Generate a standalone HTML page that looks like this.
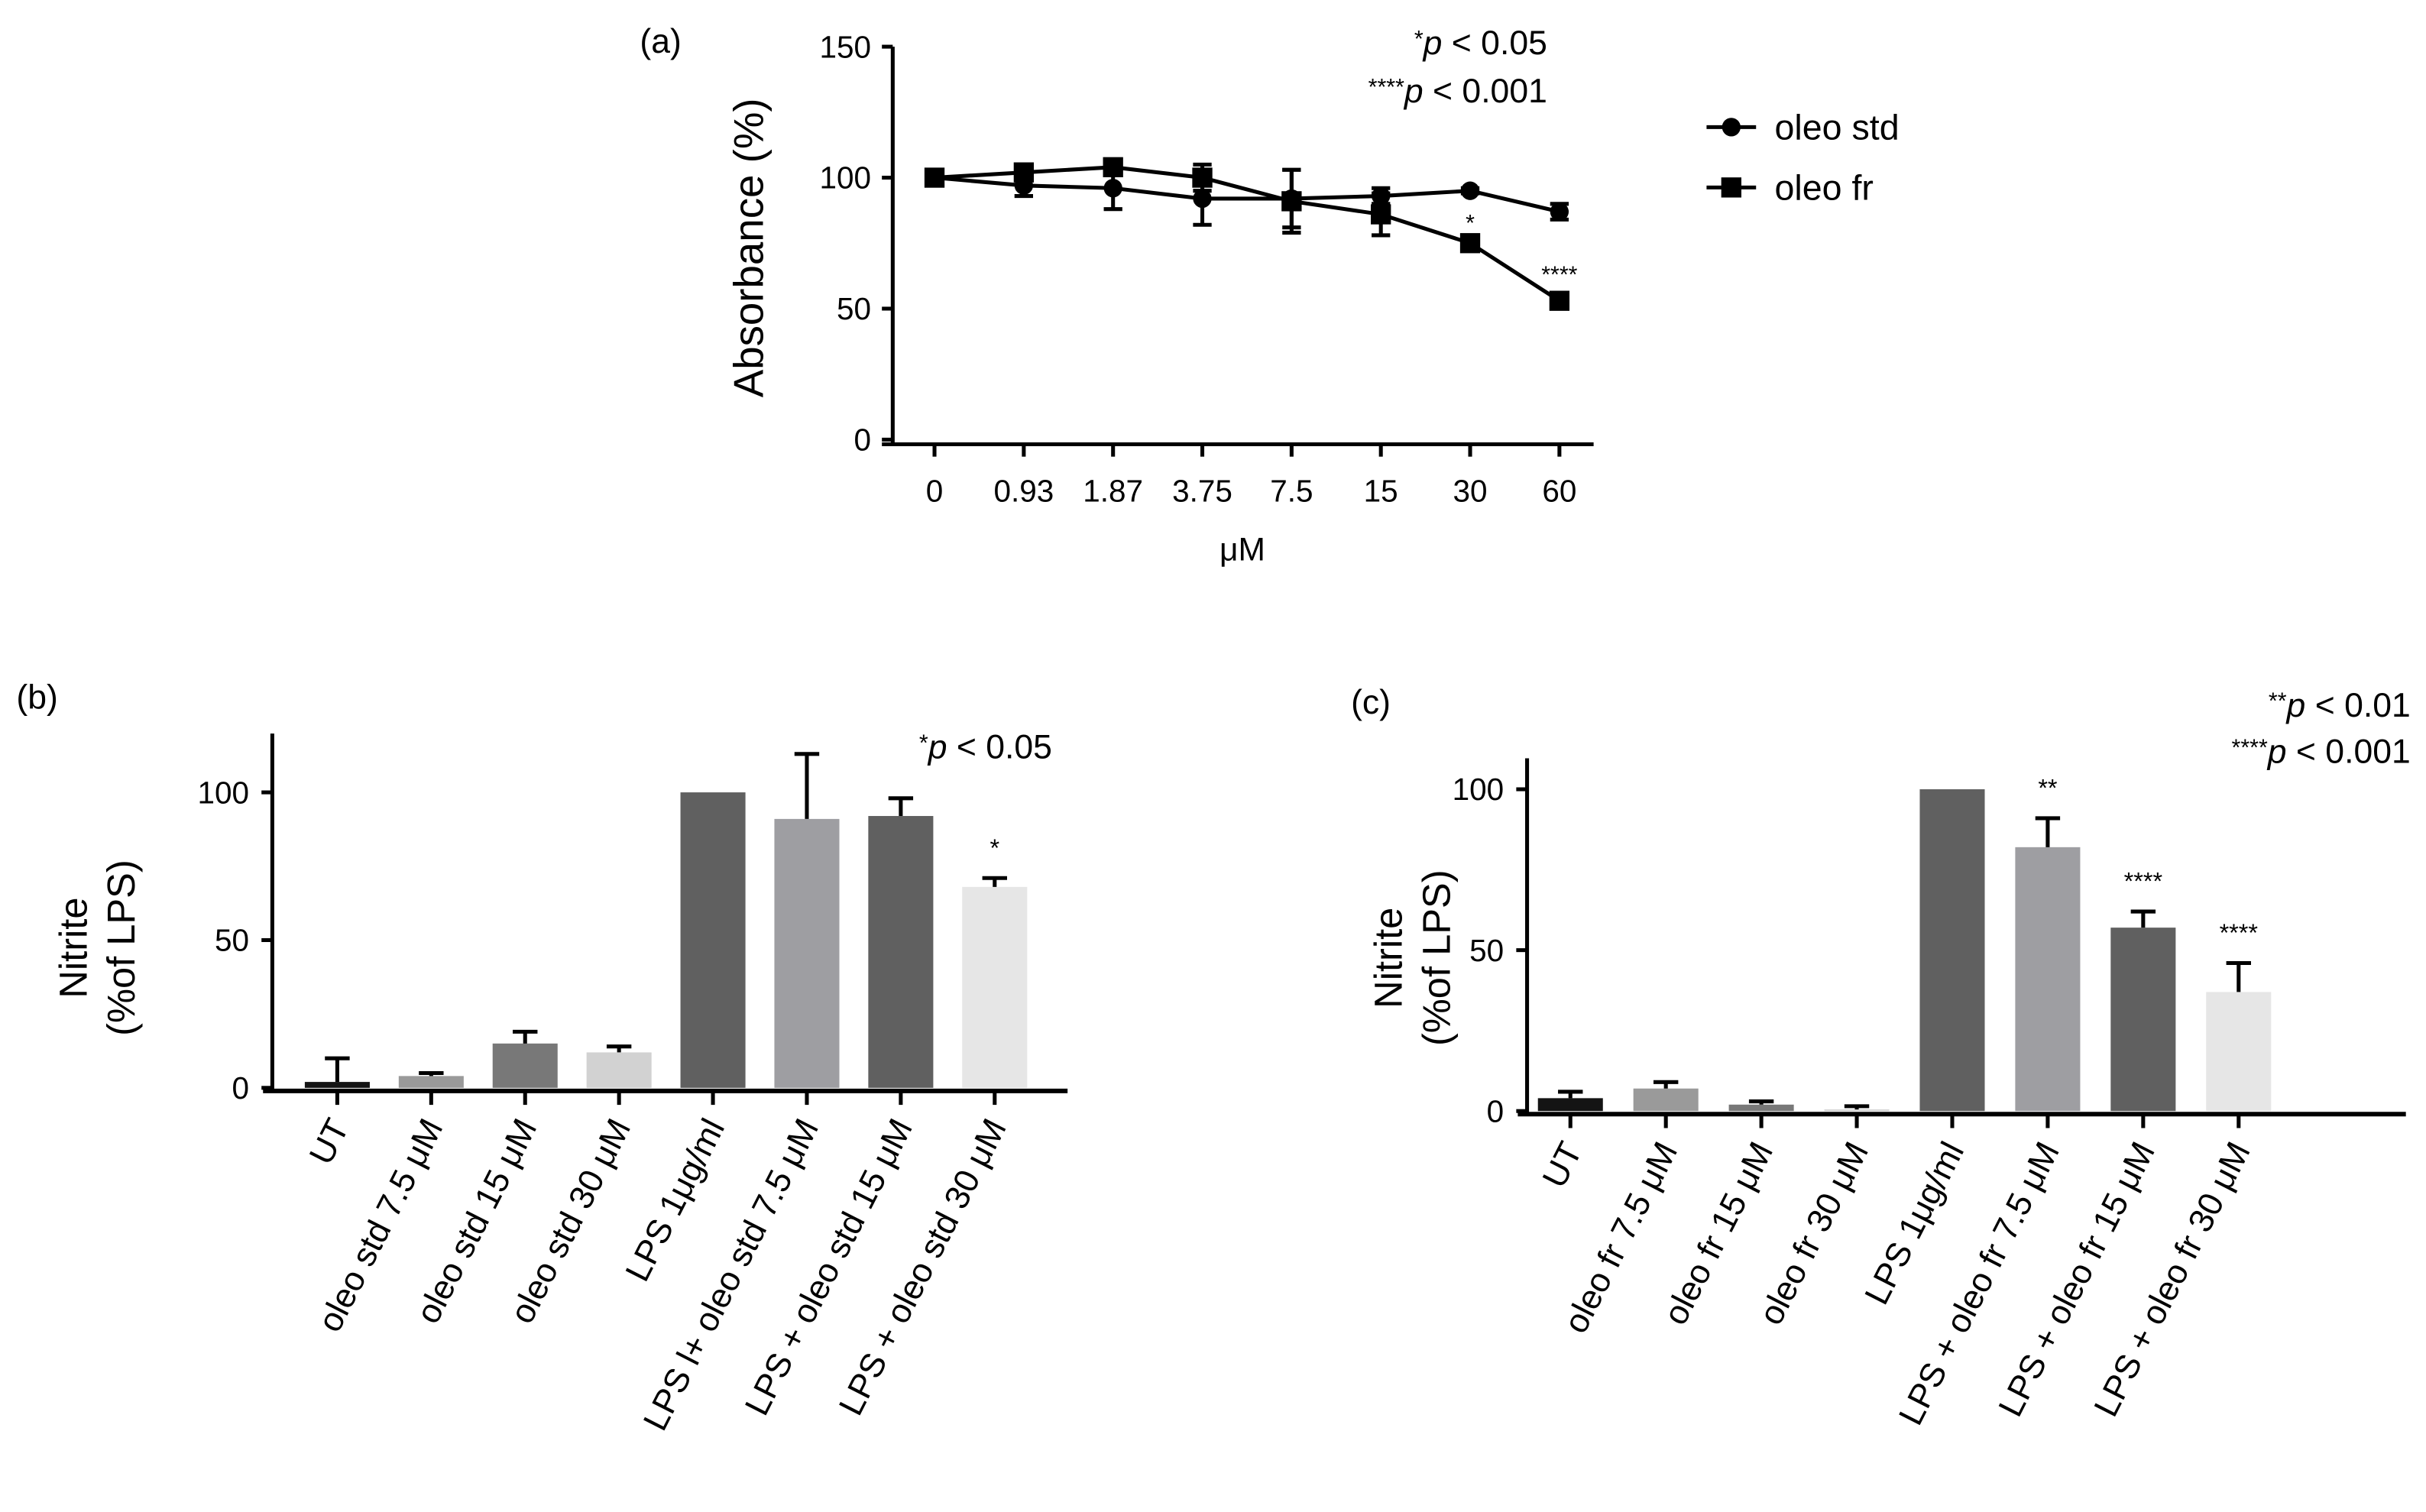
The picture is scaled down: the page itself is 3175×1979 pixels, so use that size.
<!DOCTYPE html>
<html><head><meta charset="utf-8"><style>
html,body{margin:0;padding:0;background:#fff;}
svg{display:block;font-family:"Liberation Sans",sans-serif;}
</style></head><body>
<svg id="fig" width="3175" height="1979" viewBox="0 0 1568 977" xmlns="http://www.w3.org/2000/svg">
<rect width="1568" height="977" fill="#fff"/>
<g id="ga"></g>
<g id="gb"></g>
<g id="gc"></g>
</svg>
<script>
const NS="http://www.w3.org/2000/svg";
// Panel a data
const aCategories=["0","0.93","1.87","3.75","7.5","15","30","60"];
const aStd=[100,97,96,92,92,93,95,87];
const aStdErr=[0,4,8,10,11,3,1,3];
const aFr=[100,102,104,100,91,86,75,53];
const aFrErr=[0,3,2,5,12,8,2,2];
const aTicks=[0,50,100,150];
const aStars=["","","","","","","*","****"];
// Panel b data
const bCategories=["UT","oleo std 7.5 \u03bcM","oleo std 15 \u03bcM","oleo std 30 \u03bcM","LPS 1\u03bcg/ml","LPS l+ oleo std 7.5 \u03bcM","LPS + oleo std 15 \u03bcM","LPS + oleo std 30 \u03bcM"];
const bValues=[2,4,15,12,100,91,92,68];
const bErr=[8,1,4,2,0,22,6,3];
const bStars=["","","","","","","","*"];
const bTicks=[0,50,100];
// Panel c data
const cCategories=["UT","oleo fr 7.5 \u03bcM","oleo fr 15 \u03bcM","oleo fr 30 \u03bcM","LPS 1\u03bcg/ml","LPS + oleo fr 7.5 \u03bcM","LPS + oleo fr 15 \u03bcM","LPS + oleo fr 30 \u03bcM"];
const cValues=[4,7,2,0.5,100,82,57,37];
const cErr=[2,2,1,1,0,9,5,9];
const cStars=["","","","","","**","****","****"];
const cTicks=[0,50,100];
const barColors=["#141414","#9a9a9a","#787878","#d2d2d2","#606060","#9e9ea2","#606060","#e6e6e6"];

function el(parent,tag,attrs,txt){const e=document.createElementNS(NS,tag);for(const k in attrs)e.setAttribute(k,attrs[k]);if(txt!==undefined)e.textContent=txt;parent.appendChild(e);return e;}

// ---------- Panel a ----------
(function(){
const g=document.getElementById('ga');
const x0=604,dx=57.7,yZero=284,yTop=30;
const ya=v=>yZero-(v/150)*(yZero-yTop);
const xa=i=>x0+i*dx;
let t;
t=el(g,'text',{x:427,y:34,'font-size':22,'text-anchor':'middle'},'(a)');

let ax=el(g,'line',{x1:577,y1:yTop,x2:577,y2:287,stroke:'#000','stroke-width':2.5});

ax=el(g,'line',{x1:570,y1:287,x2:1030,y2:287,stroke:'#000','stroke-width':2.5});

aTicks.forEach(v=>{el(g,'line',{x1:570,y1:ya(v),x2:577,y2:ya(v),stroke:'#000','stroke-width':2.5});
 t=el(g,'text',{x:563,y:ya(v)+7,'font-size':20,'text-anchor':'end'},String(v));
 });
aCategories.forEach((c,i)=>{el(g,'line',{x1:xa(i),y1:287,x2:xa(i),y2:295,stroke:'#000','stroke-width':2.5});
 t=el(g,'text',{x:xa(i),y:324,'font-size':20,'text-anchor':'middle'},c);
 });
t=el(g,'text',{x:803,y:362,'font-size':21,'text-anchor':'middle'},'\u03bcM');

t=el(g,'text',{x:0,y:0,'font-size':27,'text-anchor':'middle',transform:'translate(493,160) rotate(-90)'},'Absorbance (%)');

t=el(g,'text',{x:1000,y:35,'font-size':22,'text-anchor':'end'});
t.innerHTML='<tspan font-size="15" dy="-5">*</tspan><tspan font-style="italic" dy="5">p</tspan> &lt; 0.05';

t=el(g,'text',{x:1000,y:66,'font-size':22,'text-anchor':'end'});
t.innerHTML='<tspan font-size="15" dy="-5">****</tspan><tspan font-style="italic" dy="5">p</tspan> &lt; 0.001';

function series(vals,errs,name,shape){
 const pts=vals.map((v,i)=>xa(i)+','+ya(v)).join(' ');
 const l=el(g,'polyline',{points:pts,fill:'none',stroke:'#000','stroke-width':2.5});
 
 vals.forEach((v,i)=>{
  if(errs[i]>0){const e=el(g,'path',{d:`M${xa(i)},${ya(v+errs[i])}V${ya(v-errs[i])}M${xa(i)-6},${ya(v+errs[i])}h12M${xa(i)-6},${ya(v-errs[i])}h12`,stroke:'#000','stroke-width':2.5,fill:'none'});
   }
  let m;
  if(shape==='c')m=el(g,'circle',{cx:xa(i),cy:ya(v),r:6,fill:'#000'});
  else m=el(g,'rect',{x:xa(i)-6.5,y:ya(v)-6.5,width:13,height:13,fill:'#000'});
  
 });
}
series(aStd,aStdErr,'oleo-std','c');
series(aFr,aFrErr,'oleo-fr','s');
aStars.forEach((s,i)=>{if(s){t=el(g,'text',{x:xa(i),y:ya(aFr[i])-8-(s.length>1?4:0),'font-size':15,'text-anchor':'middle'},s);
 }});
// legend
let le=el(g,'g',{});
el(le,'line',{x1:1103,y1:82,x2:1135,y2:82,stroke:'#000','stroke-width':2.5});
el(le,'circle',{cx:1119,cy:82,r:6,fill:'#000'});
el(le,'text',{x:1147,y:90,'font-size':23},'oleo std');
le=el(g,'g',{});
el(le,'line',{x1:1103,y1:121,x2:1135,y2:121,stroke:'#000','stroke-width':2.5});
el(le,'rect',{x:1112.5,y:114.5,width:13,height:13,fill:'#000'});
el(le,'text',{x:1147,y:129,'font-size':23},'oleo fr');
})();

// ---------- bar panels ----------
function barPanel(gid,cfg){
 const g=document.getElementById(gid);
 const {axisX,yTop,yZero,y100,x0,dx,xEnd,cats,vals,errs,stars,ticks,label,labelX,labelY,titleX}=cfg;
 const ys=v=>yZero-(v/100)*(yZero-y100);
 const xs=i=>x0+i*dx;
 let t=el(g,'text',{x:labelX,y:labelY,'font-size':22,'text-anchor':'middle'},label);
 
 vals.forEach((v,i)=>{
  const b=el(g,'rect',{x:xs(i)-21,y:ys(v),width:42,height:yZero-ys(v),fill:barColors[i]});
  
  if(errs[i]>0){const e=el(g,'path',{d:`M${xs(i)},${ys(v)}V${ys(v+errs[i])}M${xs(i)-8},${ys(v+errs[i])}h16`,stroke:'#000','stroke-width':2.5,fill:'none'});
   }
  if(stars[i]){t=el(g,'text',{x:xs(i),y:ys(v+errs[i])-14,'font-size':16,'text-anchor':'middle'},stars[i]);
   }
  el(g,'line',{x1:xs(i),y1:yZero+2,x2:xs(i),y2:yZero+11,stroke:'#000','stroke-width':2.5});
  t=el(g,'text',{x:0,y:0,'font-size':22,'text-anchor':'end',transform:`translate(${xs(i)+8},${yZero+25}) rotate(-63)`},cats[i]);
  
 });
 let a=el(g,'line',{x1:axisX,y1:yTop,x2:axisX,y2:yZero+3,stroke:'#000','stroke-width':2.5});
 
 a=el(g,'line',{x1:axisX-6,y1:yZero+2,x2:xEnd,y2:yZero+2,stroke:'#000','stroke-width':3});
 
 ticks.forEach(v=>{el(g,'line',{x1:axisX-7,y1:ys(v),x2:axisX,y2:ys(v),stroke:'#000','stroke-width':2.5});
  t=el(g,'text',{x:axisX-15,y:ys(v)+7,'font-size':20,'text-anchor':'end'},String(v));
  });
 const cy=(yZero+ys(100))/2+5;
 t=el(g,'text',{x:0,y:0,'font-size':25,'text-anchor':'middle',transform:`translate(${titleX},${cy}) rotate(-90)`},'Nitrite');
 
 t=el(g,'text',{x:0,y:0,'font-size':25,'text-anchor':'middle',transform:`translate(${titleX+31},${cy}) rotate(-90)`},'(%of LPS)');
 
 return g;
}
const gb=barPanel('gb',{axisX:176,yTop:474,yZero:703,y100:512,x0:218,dx:60.7,xEnd:690,cats:bCategories,vals:bValues,errs:bErr,stars:bStars,ticks:bTicks,label:'(b)',labelX:24,labelY:458,titleX:56});
let tt=el(gb,'text',{x:680,y:490,'font-size':22,'text-anchor':'end'});
tt.innerHTML='<tspan font-size="15" dy="-5">*</tspan><tspan font-style="italic" dy="5">p</tspan> &lt; 0.05';

const gc=barPanel('gc',{axisX:987,yTop:490,yZero:718,y100:510,x0:1015,dx:61.7,xEnd:1555,cats:cCategories,vals:cValues,errs:cErr,stars:cStars,ticks:cTicks,label:'(c)',labelX:886,labelY:461,titleX:906});
tt=el(gc,'text',{x:1558,y:463,'font-size':22,'text-anchor':'end'});
tt.innerHTML='<tspan font-size="15" dy="-5">**</tspan><tspan font-style="italic" dy="5">p</tspan> &lt; 0.01';

tt=el(gc,'text',{x:1558,y:493,'font-size':22,'text-anchor':'end'});
tt.innerHTML='<tspan font-size="15" dy="-5">****</tspan><tspan font-style="italic" dy="5">p</tspan> &lt; 0.001';

</script>
</body></html>
